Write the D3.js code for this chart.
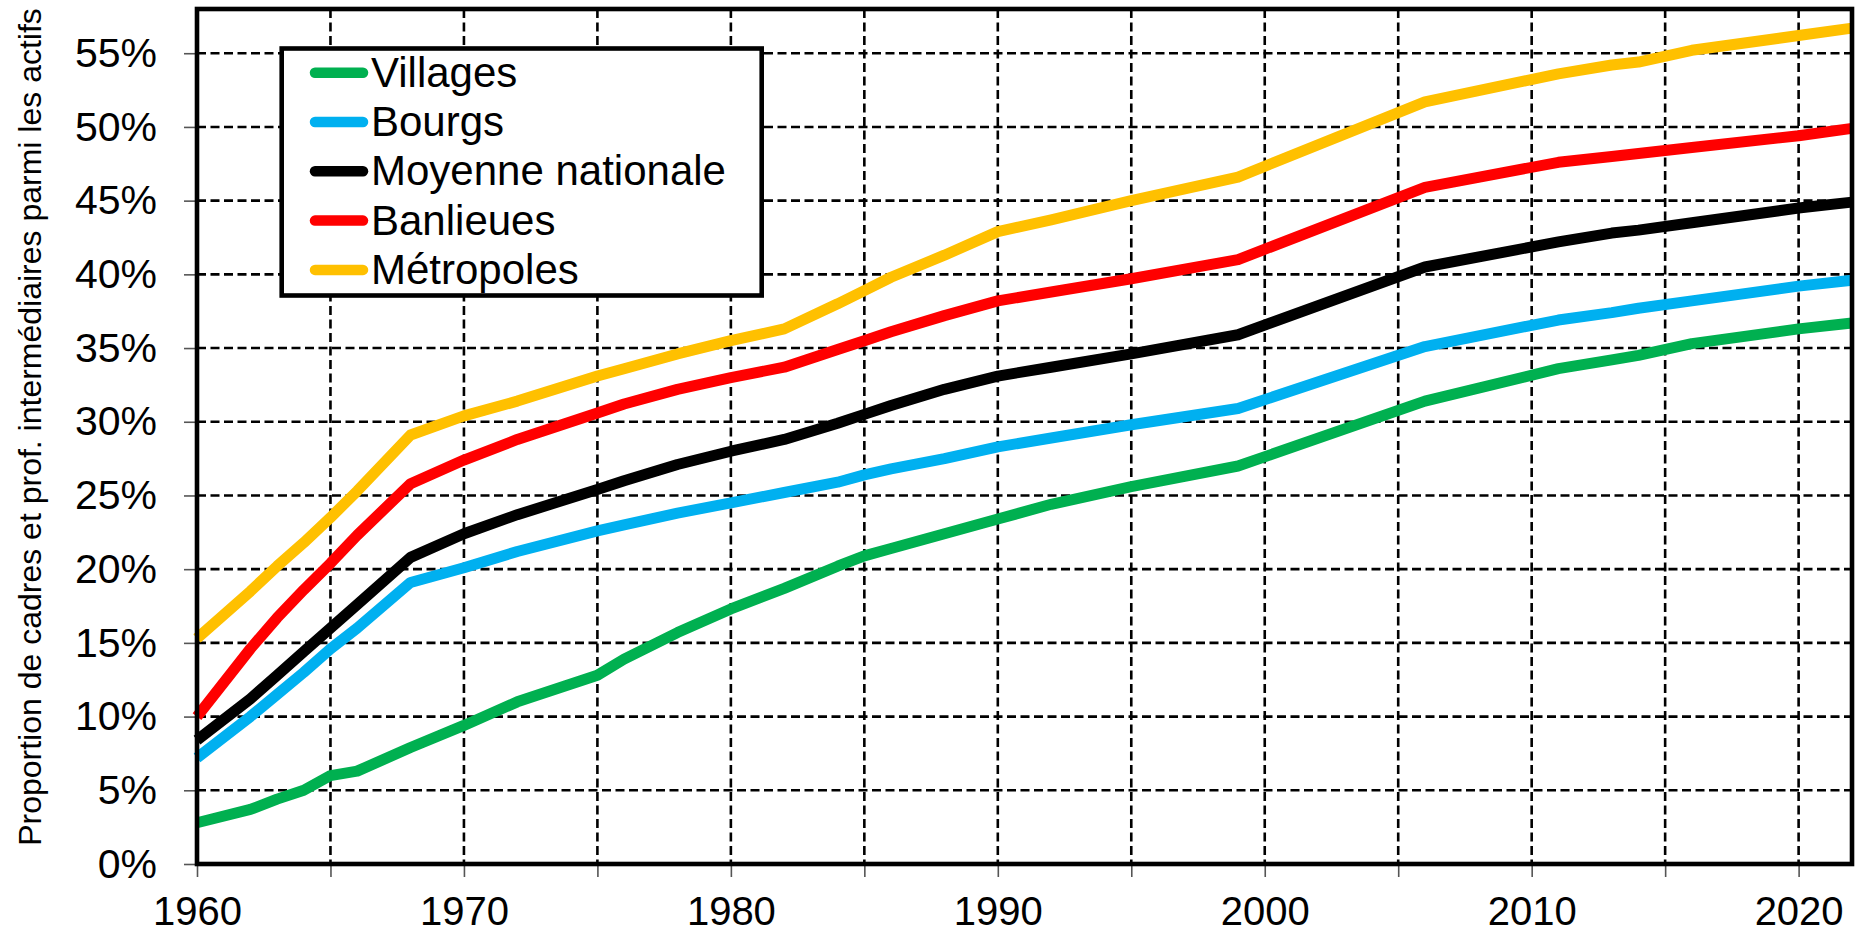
<!DOCTYPE html>
<html>
<head>
<meta charset="utf-8">
<script src="https://cdn.jsdelivr.net/npm/d3@7"></script>
<style>
  html, body { margin: 0; padding: 0; background: #fff; }
  svg { display: block; font-family: "Liberation Sans", Arial, sans-serif; }
</style>
</head>
<body>
<svg id="chart" width="1857" height="934"></svg>
<script>
// ---- data ----
const years = [1960, 1962, 1963, 1964, 1965, 1966, 1968, 1970, 1972, 1975, 1976, 1978, 1980, 1982, 1984, 1985, 1986, 1988, 1990, 1992, 1995, 1999, 2006, 2011, 2013, 2014, 2016, 2020, 2022];
const villages   = [2.8, 3.7, 4.4, 5.0, 6.0, 6.3, 7.9, 9.4, 11.0, 12.8, 13.9, 15.7, 17.3, 18.7, 20.2, 20.9, 21.4, 22.4, 23.4, 24.4, 25.6, 27.0, 31.4, 33.6, 34.2, 34.5, 35.3, 36.3, 36.7];
const bourgs     = [7.2, 10.0, 11.5, 13.0, 14.6, 16.0, 19.1, 20.1, 21.2, 22.6, 23.0, 23.8, 24.5, 25.2, 25.9, 26.4, 26.8, 27.5, 28.3, 28.9, 29.8, 30.9, 35.1, 36.9, 37.4, 37.7, 38.2, 39.2, 39.6];
const moyenne    = [8.4, 11.2, 12.8, 14.4, 16.0, 17.6, 20.8, 22.4, 23.7, 25.4, 26.0, 27.1, 28.0, 28.8, 29.9, 30.5, 31.1, 32.2, 33.1, 33.7, 34.6, 35.9, 40.5, 42.2, 42.8, 43.0, 43.5, 44.5, 44.9];
const banlieues  = [10.0, 14.6, 16.7, 18.6, 20.4, 22.3, 25.8, 27.4, 28.8, 30.6, 31.2, 32.2, 33.0, 33.7, 34.9, 35.5, 36.1, 37.2, 38.2, 38.8, 39.7, 41.0, 45.9, 47.6, 48.0, 48.2, 48.6, 49.4, 49.9];
const metropoles = [15.3, 18.5, 20.2, 21.8, 23.5, 25.3, 29.1, 30.4, 31.4, 33.1, 33.6, 34.6, 35.5, 36.3, 38.0, 38.9, 39.8, 41.3, 42.9, 43.7, 45.0, 46.6, 51.7, 53.6, 54.2, 54.4, 55.2, 56.2, 56.7];

const seriesNames  = ["Villages", "Bourgs", "Moyenne nationale", "Banlieues", "Métropoles"];
const seriesValues = [villages, bourgs, moyenne, banlieues, metropoles];
const seriesColors = ["#00B050", "#00B0F0", "#000000", "#FF0000", "#FFC000"];

const yTicks = [0, 5, 10, 15, 20, 25, 30, 35, 40, 45, 50, 55];
const xTicks = [1960, 1965, 1970, 1975, 1980, 1985, 1990, 1995, 2000, 2005, 2010, 2015, 2020];
const xLabelYears = [1960, 1970, 1980, 1990, 2000, 2010, 2020];
const yTitle = "Proportion de cadres et prof. intermédiaires parmi les actifs";

// ---- layout ----
const L = 197, T = 9, R = 1852, B = 864;
const svg = d3.select("#chart");
const x = d3.scaleLinear().domain([1960, 2022]).range([L, R]);
const y = d3.scaleLinear().domain([0, 58]).range([B, T]);

// grid
const grid = svg.append("g").attr("stroke", "#000").attr("stroke-width", 2.6).attr("stroke-dasharray", "9,4.5");
grid.selectAll("line.h").data(yTicks.filter(d => d > 0)).enter().append("line")
  .attr("x1", L).attr("x2", R).attr("y1", d => y(d)).attr("y2", d => y(d));
grid.selectAll("line.v").data(xTicks.filter(d => d > 1960)).enter().append("line")
  .attr("y1", T).attr("y2", B).attr("x1", d => x(d)).attr("x2", d => x(d));

// axes
const yAxis = d3.axisLeft(y).tickValues(yTicks).tickFormat(d => d + "%").tickSize(13).tickPadding(27);
const gy = svg.append("g").attr("transform", `translate(${L},0)`).call(yAxis);
const xAxis = d3.axisBottom(x).tickValues(xTicks)
  .tickFormat(d => xLabelYears.includes(d) ? String(d) : "").tickSize(13).tickPadding(20);
const gx = svg.append("g").attr("transform", `translate(0,${B})`).call(xAxis);
[gx, gy].forEach(g => {
  g.select(".domain").remove();
  g.selectAll(".tick line").attr("stroke", "#555").attr("stroke-width", 1.6);
  g.selectAll(".tick text").attr("fill", "#000")
    .style("font-family", '"Liberation Sans", Arial, sans-serif');
});
gy.selectAll(".tick text").style("font-size", "41px");
gx.selectAll(".tick text").style("font-size", "40px");

// series lines
const line = d3.line().x((d, i) => x(years[i])).y(d => y(d));
svg.append("g").selectAll("path").data(seriesValues).enter().append("path")
  .attr("d", d => line(d))
  .attr("fill", "none")
  .attr("stroke", (d, i) => seriesColors[i])
  .attr("stroke-width", 11)
  .attr("stroke-linejoin", "round");

// frame
svg.append("rect").attr("x", L).attr("y", T).attr("width", R - L).attr("height", B - T)
  .attr("fill", "none").attr("stroke", "#000").attr("stroke-width", 4.6);

// y title
svg.append("text")
  .attr("transform", `translate(41,427) rotate(-90)`)
  .attr("text-anchor", "middle")
  .style("font-size", "32px")
  .text(yTitle);

// legend
const lg = svg.append("g");
lg.append("rect").attr("x", 281.7).attr("y", 48.5).attr("width", 480).attr("height", 247)
  .attr("fill", "#fff").attr("stroke", "#000").attr("stroke-width", 4.6);
const rowY = i => 72.7 + i * 49.3;
seriesNames.forEach((name, i) => {
  lg.append("line").attr("x1", 315).attr("x2", 363).attr("y1", rowY(i)).attr("y2", rowY(i))
    .attr("stroke", seriesColors[i]).attr("stroke-width", 10.5).attr("stroke-linecap", "round");
  lg.append("text").attr("x", 371).attr("y", rowY(i) + 14).style("font-size", "42px").text(name);
});
</script>
</body>
</html>
